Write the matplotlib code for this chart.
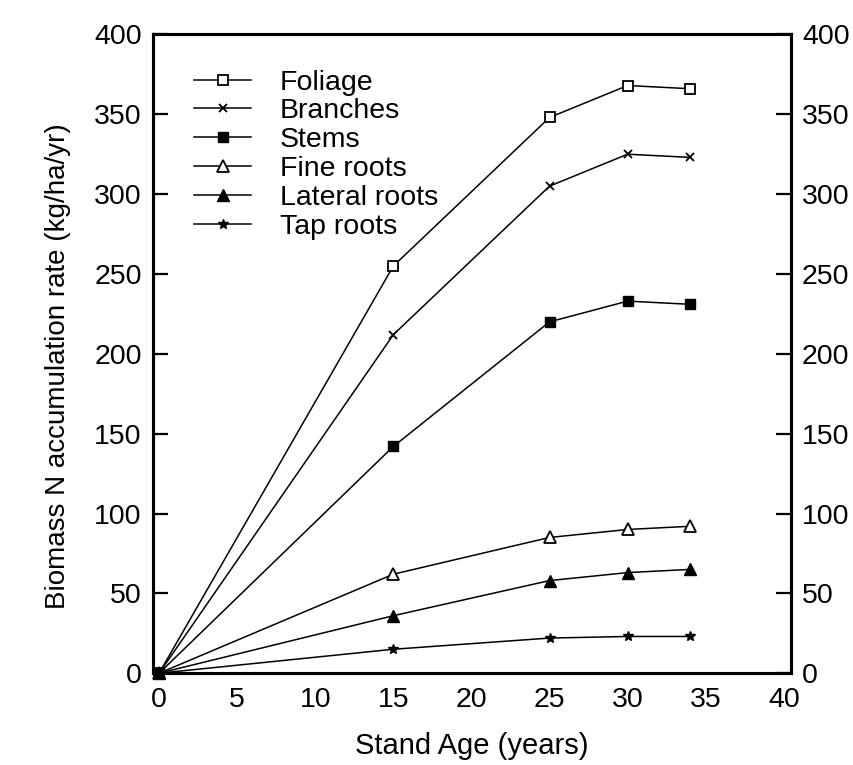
import matplotlib.pyplot as plt
from matplotlib.ticker import MultipleLocator

plt.rcParams['font.family'] = ['Liberation Sans', 'DejaVu Sans']

age = [0, 15, 25, 30, 34]

foliage = [0, 255, 348, 368, 366]
branches = [0, 212, 305, 325, 323]
stems = [0, 142, 220, 233, 231]
fine_roots = [0, 62, 85, 90, 92]
lateral_roots = [0, 36, 58, 63, 65]
tap_roots = [0, 15, 22, 23, 23]

fig = plt.figure(figsize=(8.54, 7.65), dpi=100)
ax = fig.add_axes([0.179, 0.12, 0.747, 0.835])

lw = 1.1
ax.plot(age, foliage, color='k', lw=lw, marker='s', ms=7.5, mfc='white', mec='k', mew=1.3, label='Foliage', clip_on=False)
ax.plot(age, branches, color='k', lw=lw, marker='x', ms=6, mew=1.3, label='Branches', clip_on=False)
ax.plot(age, stems, color='k', lw=lw, marker='s', ms=7.5, mfc='k', label='Stems', clip_on=False)
ax.plot(age, fine_roots, color='k', lw=lw, marker='^', ms=8, mfc='white', mec='k', mew=1.3, label='Fine roots', clip_on=False)
ax.plot(age, lateral_roots, color='k', lw=lw, marker='^', ms=8, mfc='k', label='Lateral roots', clip_on=False)
ax.plot(age, tap_roots, color='k', lw=lw, marker='*', ms=7, mfc='k', label='Tap roots', clip_on=False)

ax.set_xlim(-0.4, 40.45)
ax.set_ylim(0, 400)
ax.xaxis.set_major_locator(MultipleLocator(5))
ax.xaxis.set_minor_locator(MultipleLocator(10))
ax.yaxis.set_major_locator(MultipleLocator(50))

ax.tick_params(axis='x', which='major', length=0, labelsize=20.5, pad=10)
ax.tick_params(axis='x', which='minor', direction='in', length=11, width=1.6)
ax.tick_params(axis='y', which='major', direction='in', length=11, width=1.6, labelsize=20.5, pad=8)

ax2 = ax.twinx()
ax2.set_ylim(0, 400)
ax2.yaxis.set_major_locator(MultipleLocator(50))
ax2.tick_params(axis='y', direction='in', length=11, width=1.6, labelsize=20.5, pad=8)

for a in (ax, ax2):
    for s in a.spines.values():
        s.set_linewidth(2.2)

ax.set_xlabel('Stand Age (years)', fontsize=21)
ax.xaxis.set_label_coords(0.5, -0.092)
ax.set_ylabel('Biomass N accumulation rate (kg/ha/yr)', fontsize=20)
ax.yaxis.set_label_coords(-0.128, 0.48)

leg = ax.legend(loc='upper left', bbox_to_anchor=(0.065, 0.945), frameon=False, fontsize=20.5,
                handlelength=2.0, handletextpad=1.0, labelspacing=0.1, borderpad=0, borderaxespad=0)

fig.savefig('out.png', dpi=100)
